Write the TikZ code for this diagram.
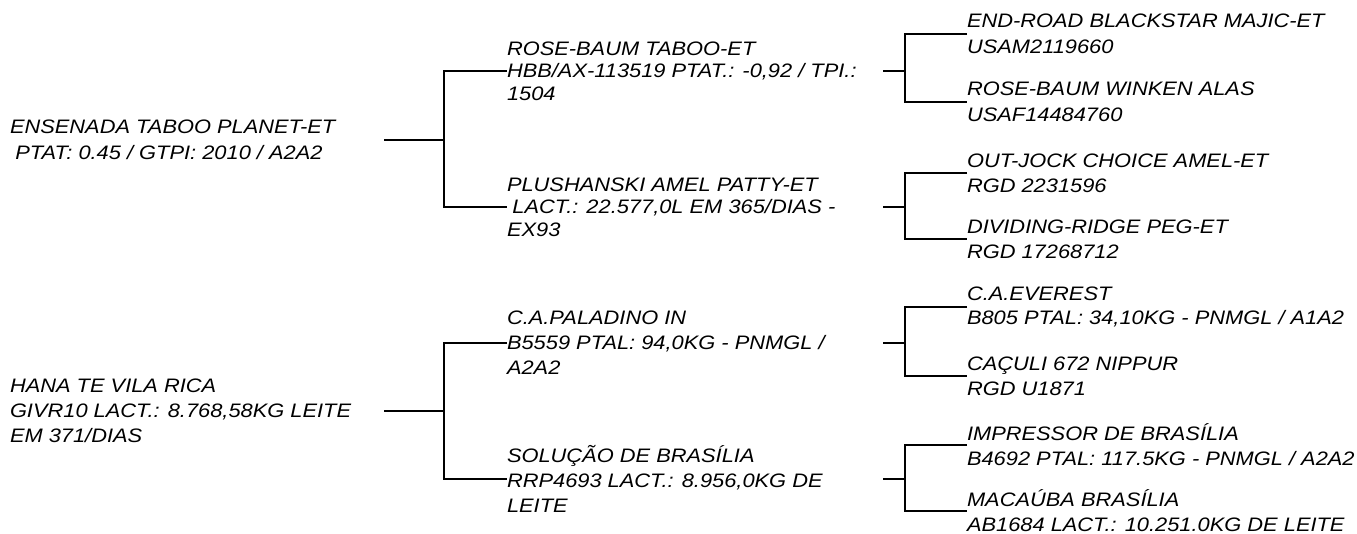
\documentclass[tikz,border=0pt]{standalone}
\usepackage{fontspec}
\setmainfont{Liberation Sans}[FakeStretch=1.12]
\newcommand{\fz}[1]{\fontsize{19.5}{#1}\selectfont\itshape}
\tikzset{
  lbl/.style={anchor=west, inner sep=0pt, outer sep=0pt, align=left, font=\fz{#1}},
  lbl/.default=25,
  conn/.style={line width=2.6pt, draw=black}
}
\begin{document}
\begin{tikzpicture}[x=1pt, y=-1pt]
\useasboundingbox[fill=white] (0,0) rectangle (1357,534);
% column coordinates
\coordinate (a0) at (384,0);
\coordinate (a1) at (444,0);
\coordinate (b0) at (883,0);
\coordinate (b1) at (905,0);
% roots
\node[lbl=26] (e1) at (10,140) {ENSENADA TABOO PLANET-ET\\\hspace*{.278em}PTAT: 0.45 / GTPI: 2010 / A2A2};
\node[lbl=25] (e2) at (10,411) {HANA TE VILA RICA\\GIVR10 LACT.: 8.768,58KG LEITE\\EM 371/DIAS};
% middle
\node[lbl=22.5] (m1) at (507,71) {ROSE-BAUM TABOO-ET\\HBB/AX-113519 PTAT.: -0,92 / TPI.:\\1504};
\node[lbl=22.5] (m2) at (507,207) {PLUSHANSKI AMEL PATTY-ET\\\hspace*{.278em}LACT.: 22.577,0L EM 365/DIAS -\\EX93};
\node[lbl=25] (m3) at (507,343) {C.A.PALADINO IN\\B5559 PTAL: 94,0KG - PNMGL /\\A2A2};
\node[lbl=25] (m4) at (507,479) {SOLUÇÃO DE BRASÍLIA\\RRP4693 LACT.: 8.956,0KG DE\\LEITE};
% right
\node[lbl=26] (r1) at (967,34) {END-ROAD BLACKSTAR MAJIC-ET\\USAM2119660};
\node[lbl=26] (r2) at (967,102) {ROSE-BAUM WINKEN ALAS\\USAF14484760};
\node[lbl=25] (r3) at (967,173) {OUT-JOCK CHOICE AMEL-ET\\RGD 2231596};
\node[lbl=25] (r4) at (967,239) {DIVIDING-RIDGE PEG-ET\\RGD 17268712};
\node[lbl=24] (r5) at (967,307) {C.A.EVEREST\\B805 PTAL: 34,10KG - PNMGL / A1A2};
\node[lbl=25] (r6) at (967,376) {CAÇULI 672 NIPPUR\\RGD U1871};
\node[lbl=25] (r7) at (967,445) {IMPRESSOR DE BRASÍLIA\\B4692 PTAL: 117.5KG - PNMGL / A2A2};
\node[lbl=25] (r8) at (967,511) {MACAÚBA BRASÍLIA\\AB1684 LACT.: 10.251.0KG DE LEITE};
% connectors
\foreach \p/\u/\v in {e1/m1/m2, e2/m3/m4} {
  \draw[conn] (a0 |- \p.west) -- (a1 |- \p.west);
  \draw[conn] (\u.west) -| (a1 |- \p.west) |- (\v.west);
}
\foreach \p/\u/\v in {m1/r1/r2, m2/r3/r4, m3/r5/r6, m4/r7/r8} {
  \draw[conn] (b0 |- \p.west) -- (b1 |- \p.west);
  \draw[conn] (\u.west) -| (b1 |- \p.west) |- (\v.west);
}
\end{tikzpicture}
\end{document}
